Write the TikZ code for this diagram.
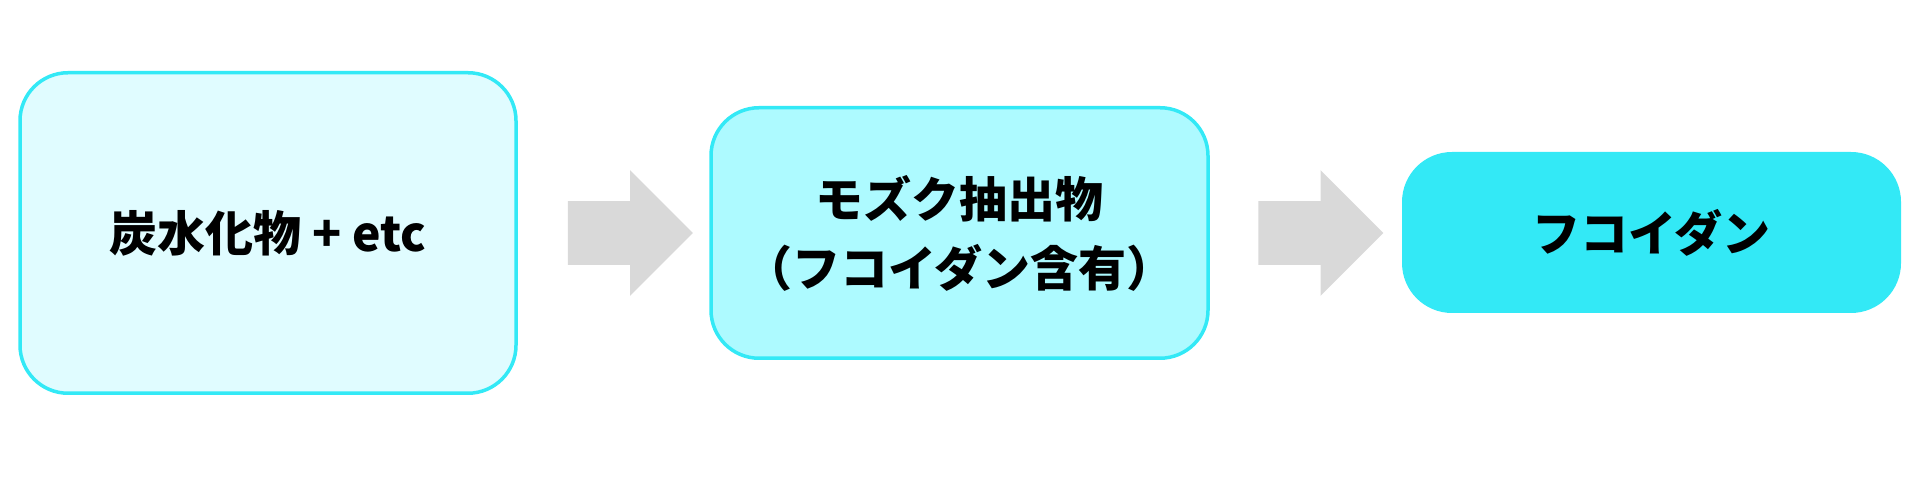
\documentclass[tikz,border=0pt]{standalone}
\usepackage{fontspec}
\newfontfamily\jpfont{Noto Sans CJK JP}
\usetikzlibrary{shapes.arrows}

\definecolor{paleaqua}{HTML}{E0FCFF}
\definecolor{lightaqua}{HTML}{ADFAFF}
\definecolor{aqua}{HTML}{33E9F6}
\definecolor{arrowgray}{HTML}{D9D9D9}

\tikzset{
  stage/.style={rounded corners=24pt, align=center, inner sep=0pt, outer sep=0pt,
    font=\jpfont\bfseries\fontsize{24pt}{34.5pt}\selectfont},
  bigarrow/.style={single arrow, fill=arrowgray, inner xsep=0pt, inner ysep=15.75pt,
    outer sep=0pt, minimum height=62.5pt, minimum width=62.5pt,
    single arrow head extend=15.5pt},
}

\begin{document}
\begin{tikzpicture}[x=0.5pt, y=0.5pt]
\useasboundingbox (0,0) rectangle (1920,480);

\coordinate (c1) at (268, 247);
\coordinate (c2) at (959.5, 247);
\coordinate (c3) at (1651.5, 247.5);
\coordinate (a1) at (614.5, 247);
\coordinate (a2) at (1305, 247);

\node[stage, draw=aqua, line width=1.75pt, fill=paleaqua,
  minimum width=248pt, minimum height=160.25pt] (carb) at (c1) {炭水化物 + etc};
\node[stage, draw=aqua, line width=1.75pt, fill=lightaqua,
  minimum width=248.5pt, minimum height=125.25pt] (extract) at (c2) {モズク抽出物\\（フコイダン含有）};
\node[stage, fill=aqua, rounded corners=25pt,
  minimum width=249.5pt, minimum height=80.5pt] (fucoidan) at (c3) {フコイダン};

\node[bigarrow] (arr1) at (a1) {};
\node[bigarrow] (arr2) at (a2) {};
\end{tikzpicture}
\end{document}
